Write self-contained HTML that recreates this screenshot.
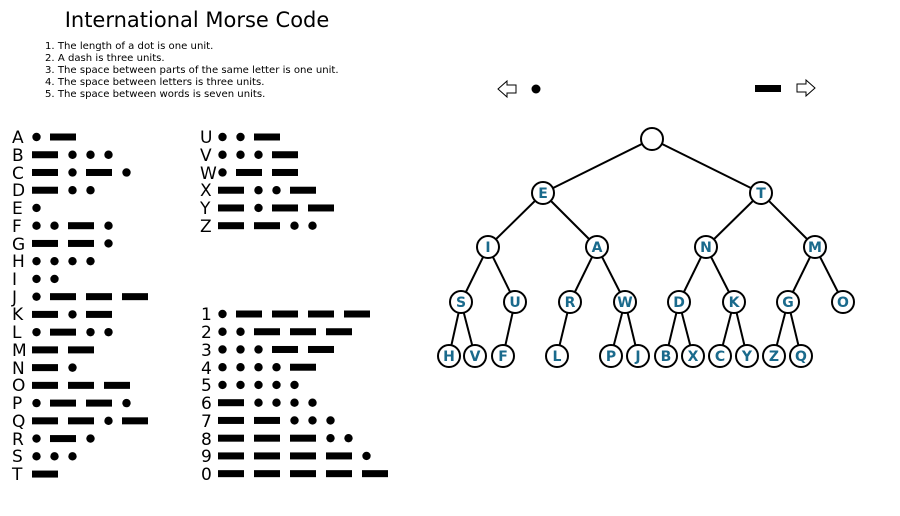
<!DOCTYPE html>
<html><head><meta charset="utf-8"><style>
html,body{margin:0;padding:0;background:#fff;}
svg{display:block;}
text{font-family:"DejaVu Sans","Liberation Sans",sans-serif;}
</style></head><body>
<svg id="s" width="900" height="516" viewBox="0 0 900 516" xmlns="http://www.w3.org/2000/svg">
<text x="197" y="27" font-size="21" text-anchor="middle" fill="#000">International Morse Code</text>
<g font-size="10.1" fill="#000">
<text x="45" y="49">1. The length of a dot is one unit.</text>
<text x="45" y="61">2. A dash is three units.</text>
<text x="45" y="73">3. The space between parts of the same letter is one unit.</text>
<text x="45" y="85">4. The space between letters is three units.</text>
<text x="45" y="97">5. The space between words is seven units.</text>
</g>
<path d="M498,89 L507,81 L507,85 L516,85 L516,93 L507,93 L507,97 Z" fill="#fff" stroke="#000" stroke-width="1"/>
<circle cx="536" cy="89" r="4.5" fill="#000"/>
<rect x="755" y="85" width="26" height="7" fill="#000"/>
<path d="M815,88 L806,80 L806,84 L797,84 L797,92 L806,92 L806,96 Z" fill="#fff" stroke="#000" stroke-width="1"/>
<g id="codes" fill="#000"></g>
<g id="edges" stroke="#000" stroke-width="2"></g>
<g id="nodes"></g>
<g font-size="17" fill="#000">
<text x="12" y="143">A</text><text x="12" y="161">B</text><text x="12" y="179">C</text><text x="12" y="196">D</text><text x="12" y="214">E</text><text x="12" y="232">F</text><text x="12" y="250">G</text><text x="12" y="267">H</text><text x="12" y="285">I</text><text x="12" y="303">J</text><text x="12" y="320">K</text><text x="12" y="338">L</text><text x="12" y="356">M</text><text x="12" y="374">N</text><text x="12" y="391">O</text><text x="12" y="409">P</text><text x="12" y="427">Q</text><text x="12" y="445">R</text><text x="12" y="462">S</text><text x="12" y="480">T</text>
<text x="200" y="143">U</text><text x="200" y="161">V</text><text x="200" y="179">W</text><text x="200" y="196">X</text><text x="200" y="214">Y</text><text x="200" y="232">Z</text>
<text x="201" y="320">1</text><text x="201" y="338">2</text><text x="201" y="356">3</text><text x="201" y="374">4</text><text x="201" y="391">5</text><text x="201" y="409">6</text><text x="201" y="427">7</text><text x="201" y="445">8</text><text x="201" y="462">9</text><text x="201" y="480">0</text>
</g>
<g font-size="14" font-weight="bold" fill="#1a6a8c" text-anchor="middle" font-family="Liberation Sans, sans-serif">
<text x="543" y="198">E</text><text x="761" y="198">T</text>
<text x="488" y="252">I</text><text x="597" y="252">A</text><text x="706" y="252">N</text><text x="815" y="252">M</text>
<text x="461" y="307">S</text><text x="515" y="307">U</text><text x="570" y="307">R</text><text x="625" y="307">W</text><text x="679" y="307">D</text><text x="734" y="307">K</text><text x="788" y="307">G</text><text x="843" y="307">O</text>
<text x="449" y="361">H</text><text x="475" y="361">V</text><text x="503" y="361">F</text><text x="557" y="361">L</text><text x="611" y="361">P</text><text x="638" y="361">J</text><text x="666" y="361">B</text><text x="693" y="361">X</text><text x="720" y="361">C</text><text x="747" y="361">Y</text><text x="774" y="361">Z</text><text x="801" y="361">Q</text>
</g>
</svg>
<script>
var NS="http://www.w3.org/2000/svg";
function el(p,n,a){var e=document.createElementNS(NS,n);for(var k in a)e.setAttribute(k,a[k]);p.appendChild(e);return e;}
var codes=document.getElementById('codes');
var L=[".-","-...","-.-.","-..",".","..-.","--.","....","..",".---","-.-",".-..","--","-.","---",".--.","--.-",".-.","...","-"];
var R=["..-","...-",".--","-..-","-.--","--.."];
var D=[".----","..---","...--","....-",".....","-....","--...","---..","----.","-----"];
function draw(x0,y,c){var p=x0;for(var i=0;i<c.length;i++){if(c[i]=='.'){el(codes,'circle',{cx:p+4.5,cy:y,r:4.2});p+=18;}else{el(codes,'rect',{x:p,y:y-3.5,width:26,height:7});p+=36;}}}
var st=17.74;
L.forEach(function(c,i){draw(32,137+i*st,c);});
R.forEach(function(c,i){draw(218,137+i*st,c);});
D.forEach(function(c,i){draw(218,314+i*st,c);});
var N={root:[652,139],E:[543,193],T:[761,193],I:[488,247],A:[597,247],N:[706,247],M:[815,247],
S:[461,302],U:[515,302],R:[570,302],W:[625,302],D:[679,302],K:[734,302],G:[788,302],O:[843,302],
H:[449,356],V:[475,356],F:[503,356],L:[557,356],P:[611,356],J:[638,356],B:[666,356],X:[693,356],C:[720,356],Y:[747,356],Z:[774,356],Q:[801,356]};
var E=[["root","E"],["root","T"],["E","I"],["E","A"],["T","N"],["T","M"],["I","S"],["I","U"],["A","R"],["A","W"],["N","D"],["N","K"],["M","G"],["M","O"],
["S","H"],["S","V"],["U","F"],["R","L"],["W","P"],["W","J"],["D","B"],["D","X"],["K","C"],["K","Y"],["G","Z"],["G","Q"]];
var eg=document.getElementById('edges'),ng=document.getElementById('nodes');
E.forEach(function(e){var a=N[e[0]],b=N[e[1]];el(eg,'line',{x1:a[0],y1:a[1],x2:b[0],y2:b[1]});});
for(var k in N){el(ng,'circle',{cx:N[k][0],cy:N[k][1],r:11,fill:'#fff',stroke:'#000','stroke-width':2});}
</script>
</body></html>
